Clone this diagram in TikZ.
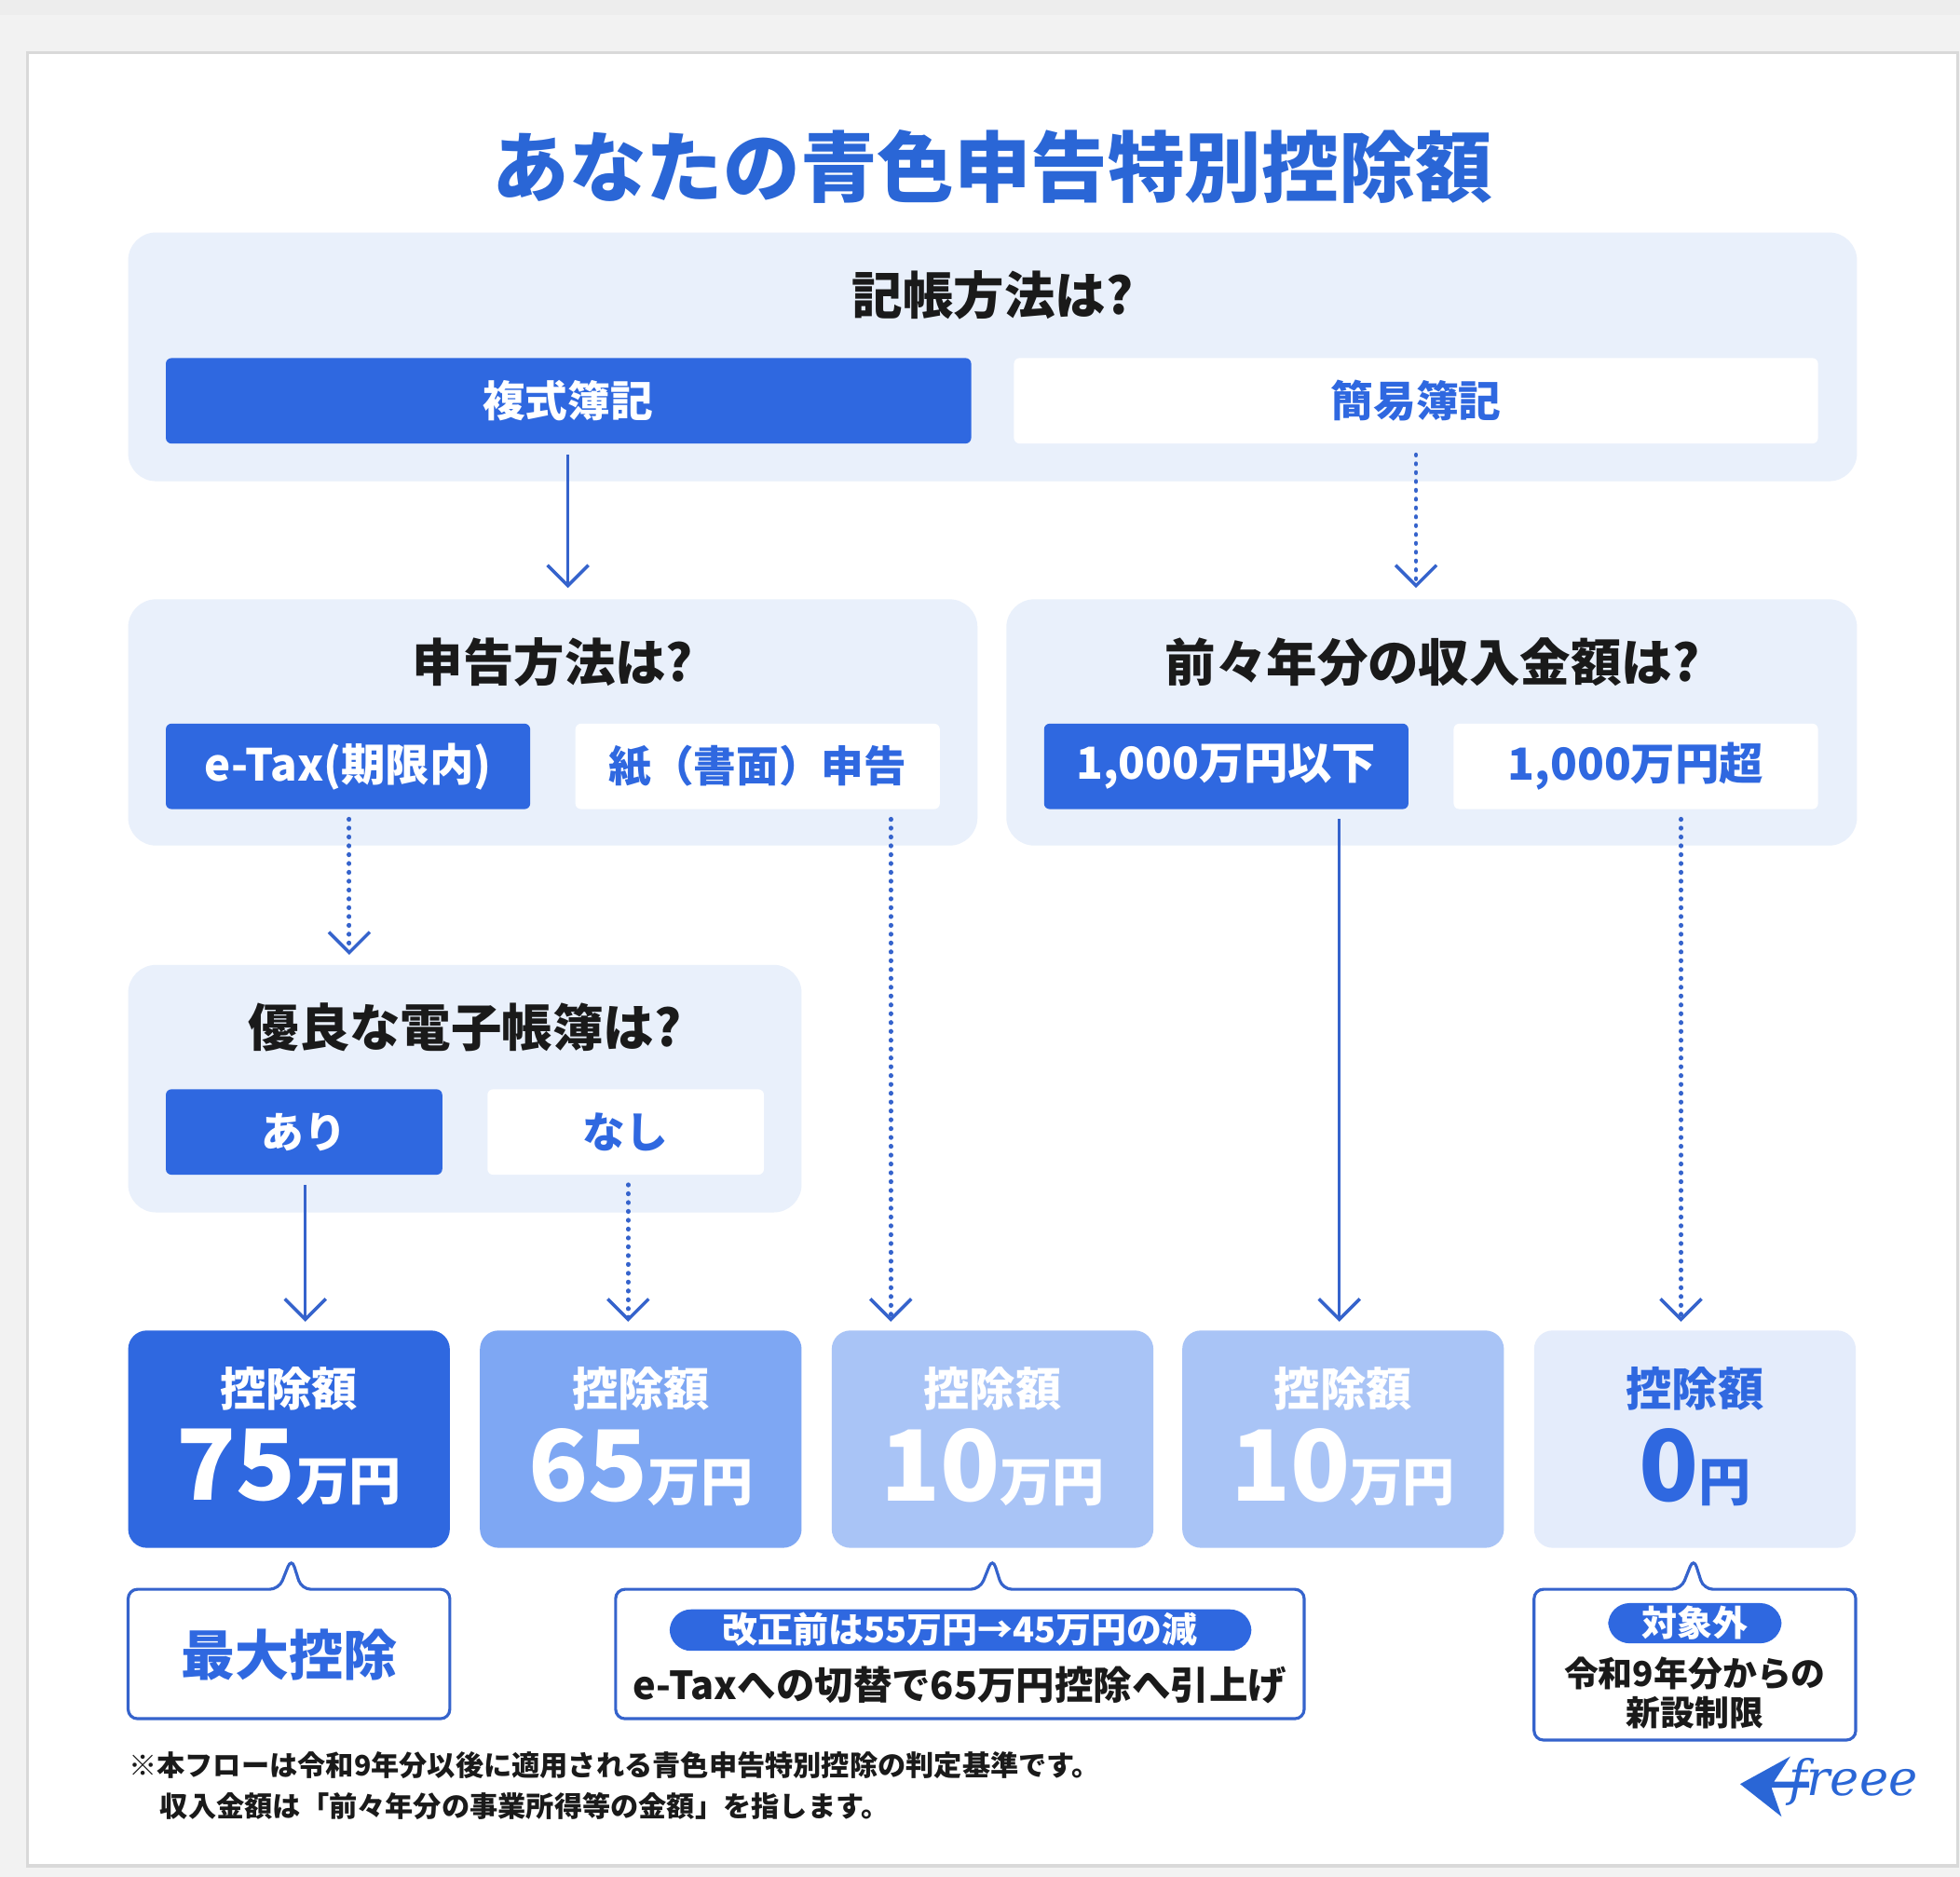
\documentclass[tikz,border=0pt]{standalone}
\usepackage{fontspec}
\setmainfont{Noto Sans CJK JP}
\newcommand\jpb{\bfseries}
\usetikzlibrary{arrows.meta}
\definecolor{mainblue}{HTML}{2F68E0}
\definecolor{titleblue}{HTML}{2A66D6}
\definecolor{linec}{HTML}{3563CC}
\definecolor{panel}{HTML}{E9F0FB}
\definecolor{midblue}{HTML}{7EA7F3}
\definecolor{lightblue}{HTML}{A9C4F6}
\definecolor{paleblue}{HTML}{E4ECFB}
\definecolor{txt}{HTML}{1A1A1A}
\begin{document}
\begin{tikzpicture}[x=0.1349mm,y=-0.1349mm,
  panelbox/.style={fill=panel,rounded corners=3mm,draw=none},
  btnon/.style={fill=mainblue,rounded corners=0.6mm},
  btnoff/.style={fill=white,rounded corners=0.6mm},
  q/.style={text=txt,font=\jpb\fontsize{15.5}{18}\selectfont},
  arr/.style={draw=linec,line width=1pt,-{Straight Barb[length=2.2mm,width=4.4mm,line width=1pt]}},
  darr/.style={arr,dash pattern=on 0.1pt off 2.6pt,line cap=round,line width=1.4pt},
  res/.style={rounded corners=2mm,draw=none},
  lbl/.style={font=\jpb\fontsize{14}{16}\selectfont},
  callout/.style={draw=linec,line width=0.9pt,fill=white,rounded corners=1mm}
]
\useasboundingbox (0,0) rectangle (1560,1494);
\fill[white!95!black] (0,0) rectangle (1560,1494);
\fill[white!93!black] (0,0) rectangle (1560,12);
\fill[white,draw=white!85!black,line width=1pt] (22,42) rectangle (1558,1485);

\node[text=titleblue,font=\jpb\fontsize{23.5}{26}\selectfont] (title) at (790,133) {あなたの青色申告特別控除額};

\path[panelbox] (102,185) rectangle (1478,383);
\node[q] (q1) at (790,235) {記帳方法は?};
\path[btnon] (132,285) rectangle (773,353); \node[text=white,font=\jpb\fontsize{13}{15}\selectfont] (fuku) at (452,319) {複式簿記};
\path[btnoff] (807,285) rectangle (1447,353); \node[text=mainblue,font=\jpb\fontsize{13}{15}\selectfont] (kani) at (1127,319) {簡易簿記};

\path[panelbox] (102,477) rectangle (778,673);
\node[q] (q2) at (440,527) {申告方法は?};
\path[btnon] (132,576) rectangle (422,644); \node[text=white,font=\jpb\fontsize{13.5}{15}\selectfont] (etax) at (277,610) {e-Tax(期限内)};
\path[btnoff] (458,576) rectangle (748,644); \node[text=mainblue,font=\jpb\fontsize{13}{15}\selectfont] (kami) at (603,610) {紙（書面）申告};

\path[panelbox] (801,477) rectangle (1478,673);
\node[q] (q3) at (1140,527) {前々年分の収入金額は?};
\path[btnon] (831,576) rectangle (1121,644); \node[text=white,font=\jpb\fontsize{13.5}{15}\selectfont] (ika) at (976,610) {1,000万円以下};
\path[btnoff] (1157,576) rectangle (1447,644); \node[text=mainblue,font=\jpb\fontsize{13.5}{15}\selectfont] (cho) at (1302,610) {1,000万円超};

\path[panelbox] (102,768) rectangle (638,965);
\node[q] (q4) at (370,818) {優良な電子帳簿は?};
\path[btnon] (132,867) rectangle (352,935); \node[text=white,font=\jpb\fontsize{13}{15}\selectfont] (ari) at (242,901) {あり};
\path[btnoff] (388,867) rectangle (608,935); \node[text=mainblue,font=\jpb\fontsize{13}{15}\selectfont] (nashi) at (498,901) {なし};

\coordinate (a1s) at (452,362); \coordinate (a1e) at (452,468);
\coordinate (a2s) at (1127,362); \coordinate (a2e) at (1127,468);
\coordinate (a3s) at (278,652); \coordinate (a3e) at (278,760);
\coordinate (a4s) at (709,652); \coordinate (a4e) at (709,1052);
\coordinate (a5s) at (1066,652); \coordinate (a5e) at (1066,1052);
\coordinate (a6s) at (1338,652); \coordinate (a6e) at (1338,1052);
\coordinate (a7s) at (243,943); \coordinate (a7e) at (243,1052);
\coordinate (a8s) at (500,943); \coordinate (a8e) at (500,1052);
\draw[arr] (a1s) -- (a1e);
\draw[darr] (a2s) -- (a2e);
\draw[darr] (a3s) -- (a3e);
\draw[darr] (a4s) -- (a4e);
\draw[arr] (a5s) -- (a5e);
\draw[darr] (a6s) -- (a6e);
\draw[arr] (a7s) -- (a7e);
\draw[darr] (a8s) -- (a8e);

\path[res,fill=mainblue] (102,1059) rectangle (358,1232);
\path[res,fill=midblue] (382,1059) rectangle (638,1232);
\path[res,fill=lightblue] (662,1059) rectangle (918,1232);
\path[res,fill=lightblue] (941,1059) rectangle (1197,1232);
\path[res,fill=paleblue] (1221,1059) rectangle (1477,1232);
\node[lbl,text=white] (l1) at (230,1105) {控除額};
\node[lbl,text=white] (l2) at (510,1105) {控除額};
\node[lbl,text=white] (l3) at (790,1105) {控除額};
\node[lbl,text=white] (l4) at (1069,1105) {控除額};
\node[lbl,text=mainblue] (l5) at (1349,1105) {控除額};
\newcommand\bignum[1]{{\fontsize{30}{32}\selectfont #1}}
\newcommand\smallu[1]{{\fontsize{16}{18}\selectfont #1}}
\node[text=white,font=\jpb] (v1) at (230,1168) {\bignum{75}\smallu{万円}};
\node[text=white,font=\jpb] (v2) at (510,1168) {\bignum{65}\smallu{万円}};
\node[text=white,font=\jpb] (v3) at (790,1168) {\bignum{10}\smallu{万円}};
\node[text=white,font=\jpb] (v4) at (1069,1168) {\bignum{10}\smallu{万円}};
\node[text=mainblue,font=\jpb] (v5) at (1349,1168) {\bignum{0}\smallu{円}};

\draw[callout] (102,1265) -- (222,1265) -- (232,1240) -- (240,1265) -- (358,1265) -- (358,1368) -- (102,1368) -- cycle;
\node[text=mainblue,font=\jpb\fontsize{16.5}{18}\selectfont] (c1) at (230,1317) {最大控除};

\draw[callout] (490,1265) -- (780,1265) -- (790,1240) -- (798,1265) -- (1038,1265) -- (1038,1368) -- (490,1368) -- cycle;
\path[fill=mainblue,rounded corners=2.3mm] (533,1281) rectangle (996,1314);
\node[text=white,font=\jpb\fontsize{10.8}{12}\selectfont] (c2a) at (764,1297) {改正前は55万円→45万円の減};
\node[text=txt,font=\jpb\fontsize{11.8}{14}\selectfont] (c2b) at (764,1341) {e-Taxへの切替で65万円控除へ引上げ};

\draw[callout] (1221,1265) -- (1338,1265) -- (1348,1240) -- (1356,1265) -- (1477,1265) -- (1477,1385) -- (1221,1385) -- cycle;
\path[fill=mainblue,rounded corners=2.3mm] (1280,1276) rectangle (1418,1308);
\node[text=white,font=\jpb\fontsize{10.8}{12}\selectfont] (c3a) at (1349,1292) {対象外};
\node[text=txt,font=\jpb\fontsize{10.5}{12}\selectfont] (c3b) at (1349,1332) {令和9年分からの};
\node[text=txt,font=\jpb\fontsize{10.5}{12}\selectfont] (c3c) at (1349,1363) {新設制限};

\node[anchor=west,text=txt,font=\jpb\fontsize{8.6}{10}\selectfont,inner sep=0] (n1) at (102,1405) {※本フローは令和9年分以後に適用される青色申告特別控除の判定基準です。};
\node[anchor=west,text=txt,font=\jpb\fontsize{8.6}{10}\selectfont,inner sep=0] (n2) at (127,1438) {収入金額は「前々年分の事業所得等の金額」を指します。};

\fill[titleblue] (1385,1420) -- (1425,1398) -- (1412,1418) -- (1440,1418) -- (1440,1423) -- (1410,1423) -- (1418,1446) -- cycle;
\node[text=titleblue,font=\fontspec{DejaVu Serif}\itshape\fontsize{15}{16}\selectfont] (logo) at (1475,1418) {freee};
\end{tikzpicture}
\end{document}
